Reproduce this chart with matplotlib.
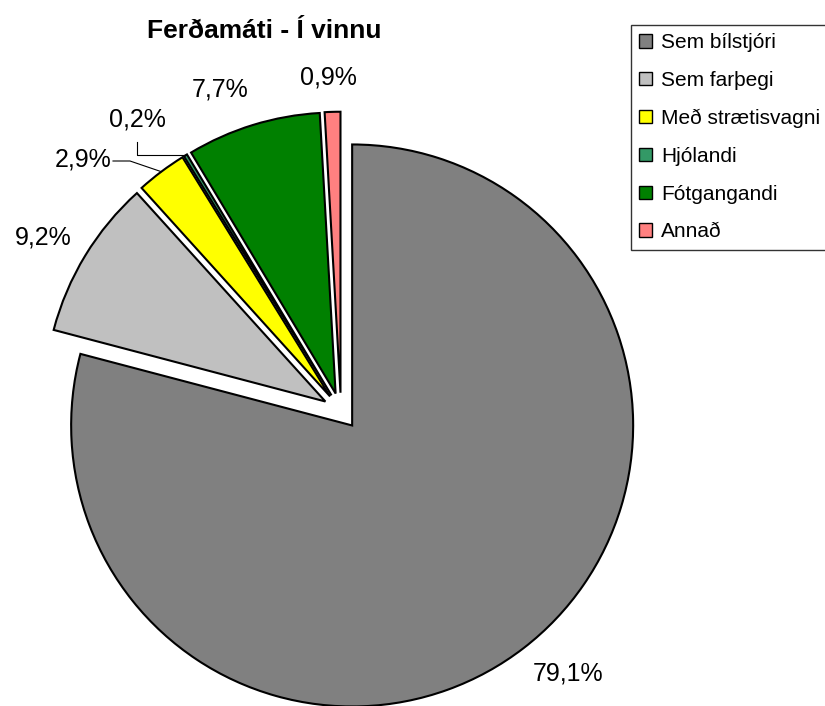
import matplotlib
matplotlib.use("Agg")
import matplotlib.pyplot as plt
from matplotlib.patches import Patch
import numpy as np

plt.rcParams["font.family"] = ["Liberation Sans", "DejaVu Sans"]

TITLE = "Ferðamáti - Í vinnu"
CATEGORIES = ["Sem bílstjóri", "Sem farþegi", "Með strætisvagni",
              "Hjólandi", "Fótgangandi", "Annað"]
SHARES = [79.1, 9.2, 2.9, 0.2, 7.7, 0.9]
COLORS = ["#808080", "#C0C0C0", "#FFFF00", "#339966", "#008000", "#FF8080"]

W, H = 825, 706
CX, CY, R = 341, 411, 281  # pie centre / radius in pixels
EXPLODE = 0.065


def px(x, y):
    """pixel position (from top-left) -> data coords"""
    return (x - CX) / R, (CY - y) / R


fig = plt.figure(figsize=(W / 100, H / 100), dpi=100)
ax = fig.add_axes([0, 0, 1, 1])
wedges, _ = ax.pie(SHARES, colors=COLORS, startangle=90, counterclock=False,
                   explode=[EXPLODE] * len(SHARES), radius=1,
                   wedgeprops=dict(edgecolor="black", linewidth=1.5))
ax.set_xlim(px(0, 0)[0], px(W, 0)[0])
ax.set_ylim(px(0, H)[1], px(0, 0)[1])
ax.set_aspect("auto")
ax.axis("off")


def fmt(v):
    return f"{v:.1f}".replace(".", ",") + "%"


# label positions (pixels)
label_pos = [(568, 673), (43, 237), (83, 160), (137, 119), (220, 90), (328, 78)]
for v, (lx, ly) in zip(SHARES, label_pos):
    ax.text(*px(lx, ly), fmt(v), fontsize=18, ha="center", va="center")


def outer_point(w):
    mid = np.deg2rad((w.theta1 + w.theta2) / 2)
    return (1 + EXPLODE) * np.cos(mid), (1 + EXPLODE) * np.sin(mid)


# leader lines for the small slices
wx, wy = outer_point(wedges[2])
a = px(113, 161)
b = px(130, 161)
ax.plot([a[0], b[0], wx], [a[1], b[1], wy], color="black", lw=0.8)

wx, wy = outer_point(wedges[3])
a = px(137, 142)
ax.plot([a[0], a[0], wx], [a[1], wy, wy], color="black", lw=0.8)

fig.text(264 / W, 1 - 31 / H, TITLE, fontsize=19, fontweight="bold",
         ha="center", va="center")

handles = [Patch(facecolor=c, edgecolor="black", lw=1) for c in COLORS]
leg = fig.legend(handles, CATEGORIES, loc="upper left",
                 bbox_to_anchor=(631 / W, 1 - 25 / H), fontsize=15,
                 frameon=True, fancybox=False, shadow=False,
                 handlelength=0.6, handleheight=0.6, handletextpad=0.45,
                 labelspacing=0.9, borderpad=0.4, borderaxespad=0)
leg.get_frame().set_edgecolor("black")
leg.get_frame().set_linewidth(1)

fig.savefig("out.png", dpi=100)
